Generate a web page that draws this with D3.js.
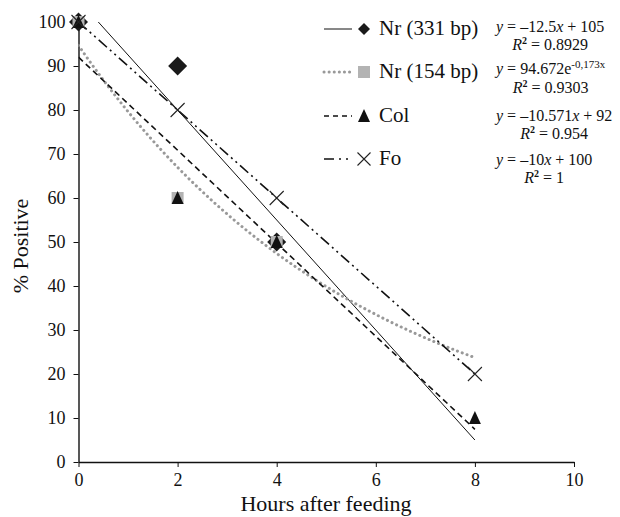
<!DOCTYPE html>
<html>
<head>
<meta charset="utf-8">
<script src="https://cdn.jsdelivr.net/npm/d3@7"></script>
<style>
  body { margin: 0; background: #fff; }
  svg text { font-family: "Liberation Serif", "Times New Roman", "DejaVu Serif", serif; }
</style>
</head>
<body>
<div id="chart"></div>
<script>
// data
var hours = [0, 2, 4, 8];
var nr331 = [100, 90, 50, null];
var nr154 = [100, 60, 50, null];
var col = [100, 60, 50, 10];
var fo = [100, 80, 60, 20];

var xTicks = [0, 2, 4, 6, 8, 10];
var yTicks = [0, 10, 20, 30, 40, 50, 60, 70, 80, 90, 100];

// fitted trend lines as given in the legend
var nr331Fit = { slope: -12.5, intercept: 105 };
var nr154Fit = { a: 94.672, b: -0.173 };
var colFit = { slope: -10.571, intercept: 92 };
var foFit = { slope: -10, intercept: 100 };

var svgWidth = 620;
var svgHeight = 517;

var svg = d3.select("#chart")
  .append("svg")
  .attr("width", svgWidth)
  .attr("height", svgHeight);

var xScale = d3.scaleLinear().domain([0, 10]).range([78.5, 574]);
var yScale = d3.scaleLinear().domain([0, 100]).range([462, 22]);

// clip lines to the plot area
svg.append("clipPath").attr("id", "plotClip")
  .append("rect")
  .attr("x", xScale(0)).attr("y", yScale(100))
  .attr("width", xScale(10) - xScale(0))
  .attr("height", yScale(0) - yScale(100));

// axes
var bottomAxis = d3.axisBottom(xScale).tickValues(xTicks).tickSize(5).tickSizeOuter(0).tickPadding(6);
var leftAxis = d3.axisLeft(yScale).tickValues(yTicks).tickSize(5).tickSizeOuter(0).tickPadding(8);

var gx = svg.append("g")
  .attr("transform", `translate(0, ${yScale(0)})`)
  .call(bottomAxis);
var gy = svg.append("g")
  .attr("transform", `translate(${xScale(0)}, 0)`)
  .call(leftAxis);

[gx, gy].forEach(function(g) {
  g.attr("font-family", null);
  g.select(".domain").attr("stroke", "#111").attr("stroke-width", 1.4);
  g.selectAll(".tick line").attr("stroke", "#111");
  g.selectAll(".tick text")
    .attr("font-size", "18px")
    .attr("fill", "#111");
});

// axis titles
svg.append("text")
  .attr("x", 326)
  .attr("y", 511)
  .attr("text-anchor", "middle")
  .attr("font-size", "22px")
  .attr("fill", "#111")
  .text("Hours after feeding");

svg.append("text")
  .attr("transform", "translate(28, 246) rotate(-90)")
  .attr("text-anchor", "middle")
  .attr("font-size", "22px")
  .attr("fill", "#111")
  .text("% Positive");

// trend lines
var plot = svg.append("g").attr("clip-path", "url(#plotClip)");
var line = d3.line().x(d => xScale(d[0])).y(d => yScale(d[1]));

function linearPts(fit) {
  return [0, 8].map(x => [x, fit.slope * x + fit.intercept]);
}
var expPts = d3.range(0, 8.01, 0.1).map(x => [x, nr154Fit.a * Math.exp(nr154Fit.b * x)]);

var styles = {
  nr331: { stroke: "#111", width: 1, dash: null, cap: "butt" },
  nr154: { stroke: "#999", width: 3, dash: "0.1,5", cap: "round" },
  col: { stroke: "#111", width: 1.6, dash: "6,4", cap: "butt" },
  fo: { stroke: "#111", width: 1.6, dash: "11,4,2,4,2,4", cap: "butt" }
};

function drawLine(g, pts, s) {
  g.append("path")
    .attr("d", line(pts))
    .attr("fill", "none")
    .attr("stroke", s.stroke)
    .attr("stroke-width", s.width)
    .attr("stroke-linecap", s.cap)
    .attr("stroke-dasharray", s.dash);
}

drawLine(plot, linearPts(nr331Fit), styles.nr331);
drawLine(plot, expPts, styles.nr154);
drawLine(plot, linearPts(colFit), styles.col);
drawLine(plot, linearPts(foFit), styles.fo);

// markers
function drawMarker(g, kind, cx, cy, size) {
  if (kind === "diamond") {
    var h = size / 2;
    g.append("path")
      .attr("d", `M${cx},${cy - h}L${cx + h},${cy}L${cx},${cy + h}L${cx - h},${cy}Z`)
      .attr("fill", "#1a1a1a");
  } else if (kind === "square") {
    g.append("rect")
      .attr("x", cx - size / 2).attr("y", cy - size / 2)
      .attr("width", size).attr("height", size)
      .attr("fill", "#b3b3b3");
  } else if (kind === "triangle") {
    var h2 = size / 2;
    g.append("path")
      .attr("d", `M${cx},${cy - h2 - 1}L${cx + h2},${cy + h2}L${cx - h2},${cy + h2}Z`)
      .attr("fill", "#111");
  } else if (kind === "cross") {
    var c = size / 2;
    g.append("path")
      .attr("d", `M${cx - c},${cy - c}L${cx + c},${cy + c}M${cx - c},${cy + c}L${cx + c},${cy - c}`)
      .attr("stroke", "#222")
      .attr("stroke-width", 1.1)
      .attr("fill", "none");
  }
}

var series = [
  { values: nr331, marker: "diamond", size: 19 },
  { values: nr154, marker: "square", size: 12 },
  { values: col, marker: "triangle", size: 12 },
  { values: fo, marker: "cross", size: 14 }
];

var markerGroup = svg.append("g");
series.forEach(function(s) {
  s.values.forEach(function(v, i) {
    if (v === null) return;
    drawMarker(markerGroup, s.marker, xScale(hours[i]), yScale(v), s.size);
  });
});

// legend
var legendRows = [
  { label: "Nr (331 bp)", style: styles.nr331, marker: "diamond", y: 35 },
  { label: "Nr (154 bp)", style: styles.nr154, marker: "square", y: 78 },
  { label: "Col", style: styles.col, marker: "triangle", y: 122 },
  { label: "Fo", style: styles.fo, marker: "cross", y: 165 }
];

var legend = svg.append("g");
legendRows.forEach(function(r) {
  var my = r.y - 6;
  var s = Object.assign({}, r.style);
  if (r.marker === "cross") s.dash = "10,5,2,5,2,5";
  if (r.marker === "triangle") s.dash = "5,4";
  legend.append("line")
    .attr("x1", 324).attr("x2", 352)
    .attr("y1", my).attr("y2", my)
    .attr("stroke", s.stroke)
    .attr("stroke-width", s.width)
    .attr("stroke-linecap", s.cap)
    .attr("stroke-dasharray", s.dash);
  var msize = r.marker === "cross" ? 13 : 12;
  drawMarker(legend, r.marker, 364, my, msize);
  legend.append("text")
    .attr("x", 379)
    .attr("y", r.y)
    .attr("font-size", "21px")
    .attr("fill", "#111")
    .text(r.label);
});

// equations
var equations = [
  { parts: [["y", true], [" = \u201312.5", false], ["x", true], [" + 105", false]], r2: "0.8929", y: 32, ry: 50 },
  { parts: [["y", true], [" = 94.672e", false]], sup: "-0,173x", r2: "0.9303", y: 74, ry: 93 },
  { parts: [["y", true], [" = \u201310.571", false], ["x", true], [" + 92", false]], r2: "0.954", y: 121, ry: 139 },
  { parts: [["y", true], [" = \u201310", false], ["x", true], [" + 100", false]], r2: "1", y: 165, ry: 183 }
];

equations.forEach(function(eq) {
  var t = svg.append("text")
    .attr("x", 496)
    .attr("y", eq.y)
    .attr("font-size", "16px")
    .attr("fill", "#111");
  eq.parts.forEach(function(p) {
    t.append("tspan").attr("font-style", p[1] ? "italic" : "normal").text(p[0]);
  });
  if (eq.sup) {
    t.append("tspan").attr("dy", -6).attr("font-size", "11px").text(eq.sup);
  }
  var w = t.node().getComputedTextLength();
  var r = svg.append("text")
    .attr("x", 496 + w / 2)
    .attr("y", eq.ry)
    .attr("text-anchor", "middle")
    .attr("font-size", "16px")
    .attr("fill", "#111");
  r.append("tspan").attr("font-style", "italic").text("R");
  r.append("tspan").attr("dy", -6).attr("font-size", "10px").attr("font-weight", "bold").text("2");
  r.append("tspan").attr("dy", 6).text(" = " + eq.r2);
});
</script>
</body>
</html>
